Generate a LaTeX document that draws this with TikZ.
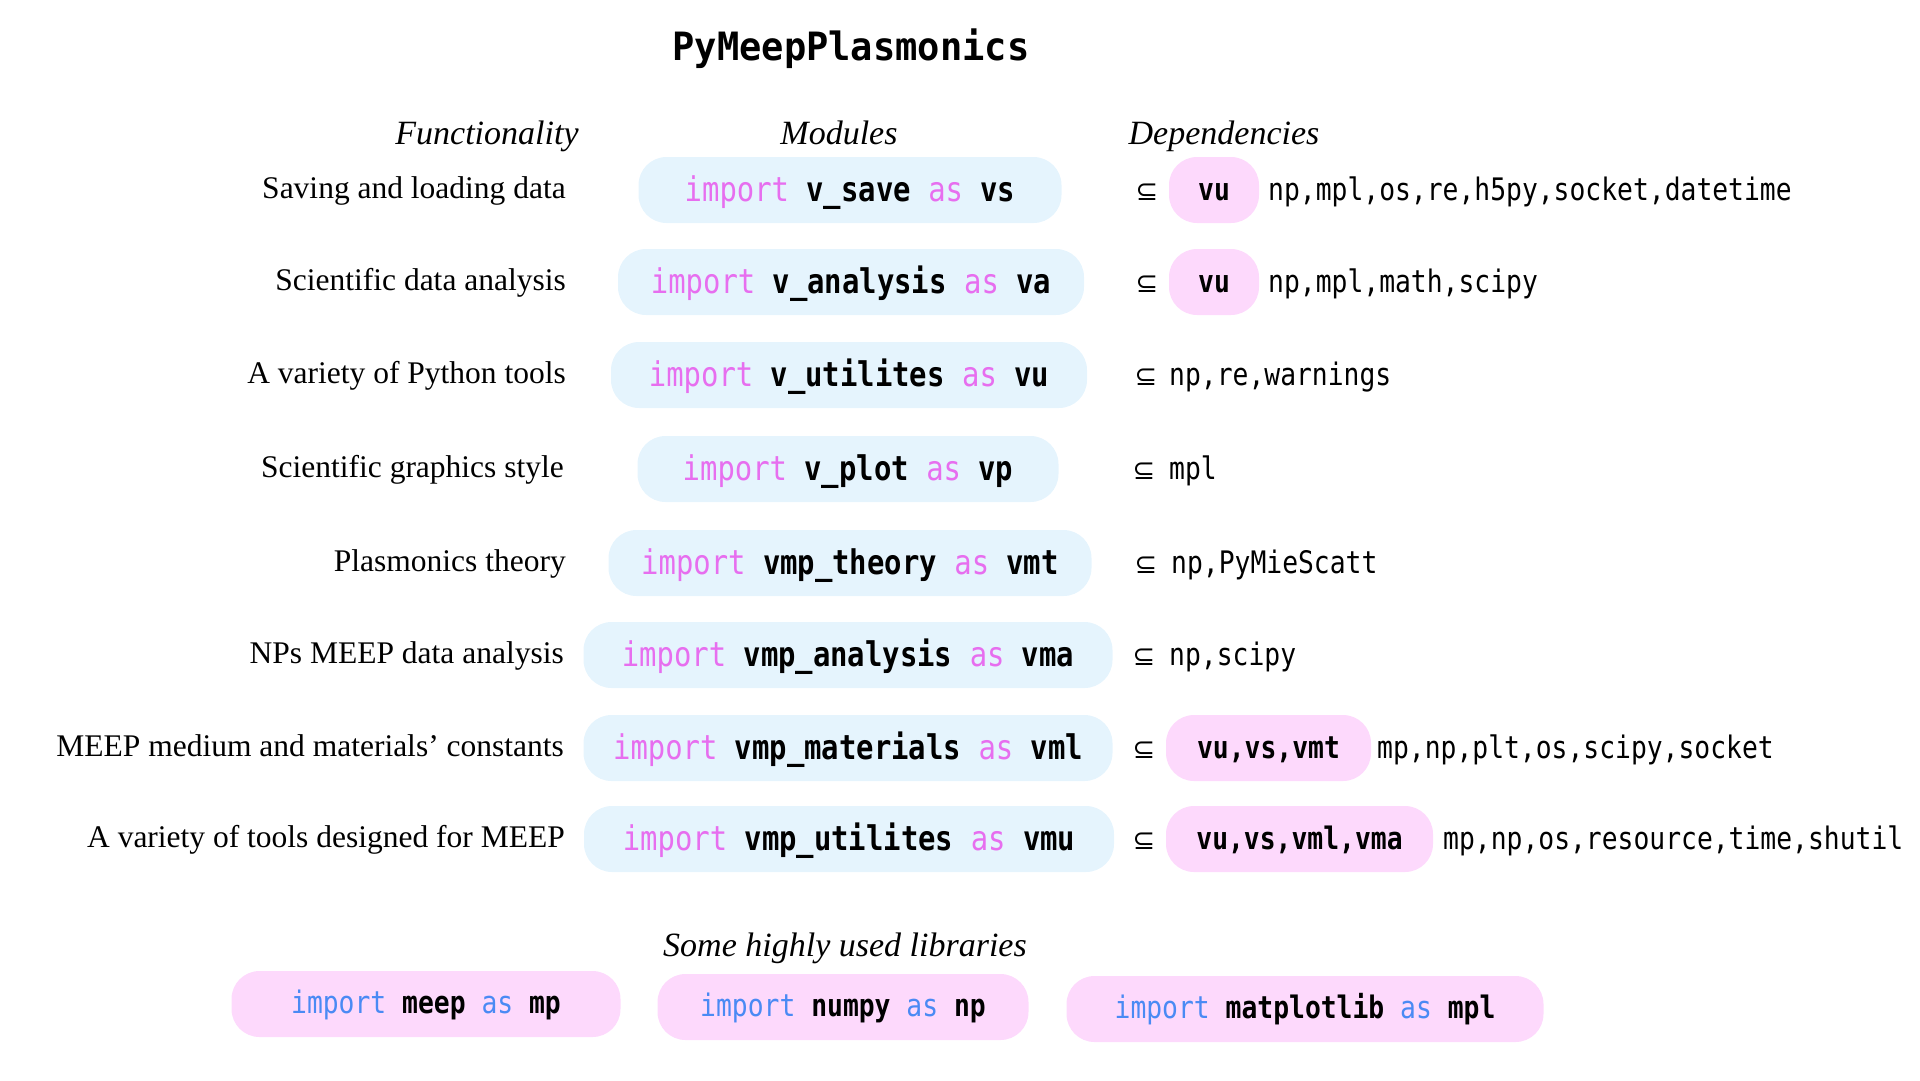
\documentclass[tikz,border=0pt]{standalone}
\usepackage{fontspec}
\setmainfont{Liberation Serif}
\newfontfamily\codefont[FakeStretch=0.85]{DejaVu Sans Mono}
\newfontfamily\titlefont[FakeStretch=0.95]{DejaVu Sans Mono}
\newfontfamily\symfont{DejaVu Sans}
\definecolor{modbg}{HTML}{E5F4FD}
\definecolor{depbg}{HTML}{FDD9FC}
\definecolor{kwmag}{HTML}{E76EEF}
\definecolor{kwblue}{HTML}{4A8AF4}
\newcommand\kwm[1]{\textcolor{kwmag}{#1}}
\newcommand\kwb[1]{\textcolor{kwblue}{#1}}
\tikzset{
  titletext/.style={anchor=base, inner sep=0, font=\titlefont\bfseries\fontsize{39}{45}\selectfont},
  hdr/.style={anchor=base, inner sep=0, font=\itshape\fontsize{34}{40}\selectfont},
  func/.style={anchor=base east, inner sep=0, font=\fontsize{31.5}{37}\selectfont},
  modbox/.style={fill=modbg, rounded corners=28, minimum height=66, inner xsep=0, text height=27, text depth=5, font=\codefont\fontsize{34}{40}\selectfont},
  depbox/.style={fill=depbg, rounded corners=28, minimum height=66, inner xsep=0, text height=25, text depth=5, font=\codefont\bfseries\fontsize{31}{37}\selectfont},
  subs/.style={anchor=base, inner sep=0, font=\symfont\fontsize{27}{30}\selectfont},
  deptext/.style={anchor=base west, inner sep=0, font=\codefont\fontsize{31}{37}\selectfont},
  libbox/.style={fill=depbg, rounded corners=28, minimum height=66, inner xsep=0, text height=24, text depth=6, font=\codefont\fontsize{31}{37}\selectfont}
}
\begin{document}
\begin{tikzpicture}[x=1pt,y=-1pt]
\useasboundingbox (0,0) rectangle (1920,1080);
% title and headers
\node[titletext] (title) at (851,60) {PyMeepPlasmonics};
\node[hdr] (hfun) at (487,144) {Functionality};
\node[hdr] (hmod) at (839,144) {Modules};
\node[hdr] (hdep) at (1224,144) {Dependencies};
% functionality labels
\node[func] (f1) at (566,198) {Saving and loading data};
\node[func] (f2) at (566,290) {Scientific data analysis};
\node[func] (f3) at (566,383) {A variety of Python tools};
\node[func] (f4) at (564,477) {Scientific graphics style};
\node[func] (f5) at (566,571) {Plasmonics theory};
\node[func] (f6) at (564,663) {NPs MEEP data analysis};
\node[func] (f7) at (564,756) {MEEP medium and materials' constants};
\node[func] (f8) at (565,847) {A variety of tools designed for MEEP};
% modules
\node[modbox, minimum width=423] (m1) at (850,190) {\kwm{import} \textbf{v\_save} \kwm{as} \textbf{vs}};
\node[modbox, minimum width=466] (m2) at (851,282) {\kwm{import} \textbf{v\_analysis} \kwm{as} \textbf{va}};
\node[modbox, minimum width=476] (m3) at (849,375) {\kwm{import} \textbf{v\_utilites} \kwm{as} \textbf{vu}};
\node[modbox, minimum width=421] (m4) at (848,469) {\kwm{import} \textbf{v\_plot} \kwm{as} \textbf{vp}};
\node[modbox, minimum width=483] (m5) at (850,563) {\kwm{import} \textbf{vmp\_theory} \kwm{as} \textbf{vmt}};
\node[modbox, minimum width=529] (m6) at (848,655) {\kwm{import} \textbf{vmp\_analysis} \kwm{as} \textbf{vma}};
\node[modbox, minimum width=529] (m7) at (848,748) {\kwm{import} \textbf{vmp\_materials} \kwm{as} \textbf{vml}};
\node[modbox, minimum width=530] (m8) at (849,839) {\kwm{import} \textbf{vmp\_utilites} \kwm{as} \textbf{vmu}};
% subset symbols
\node[subs] (s1) at (1147,200) {⊆};
\node[subs] (s2) at (1147,292) {⊆};
\node[subs] (s3) at (1146,385) {⊆};
\node[subs] (s4) at (1144,479) {⊆};
\node[subs] (s5) at (1146,573) {⊆};
\node[subs] (s6) at (1144,665) {⊆};
\node[subs] (s7) at (1144,758) {⊆};
\node[subs] (s8) at (1144,849) {⊆};
% dependencies
\node[depbox, minimum width=90] (d1) at (1214,190) {vu};
\node[deptext] (t1) at (1268,200) {np,mpl,os,re,h5py,socket,datetime};
\node[depbox, minimum width=90] (d2) at (1214,282) {vu};
\node[deptext] (t2) at (1268,292) {np,mpl,math,scipy};
\node[deptext] (t3) at (1169,385) {np,re,warnings};
\node[deptext] (t4) at (1169,479) {mpl};
\node[deptext] (t5) at (1171,573) {np,PyMieScatt};
\node[deptext] (t6) at (1169,665) {np,scipy};
\node[depbox, minimum width=205] (d7) at (1268.5,748) {vu,vs,vmt};
\node[deptext] (t7) at (1377,758) {mp,np,plt,os,scipy,socket};
\node[depbox, minimum width=267] (d8) at (1299.5,839) {vu,vs,vml,vma};
\node[deptext] (t8) at (1443,849) {mp,np,os,resource,time,shutil};
% libraries
\node[hdr] (hlib) at (845,956) {Some highly used libraries};
\node[libbox, minimum width=389] (l1) at (426,1004) {\kwb{import} \textbf{meep} \kwb{as} \textbf{mp}};
\node[libbox, minimum width=371] (l2) at (843,1007) {\kwb{import} \textbf{numpy} \kwb{as} \textbf{np}};
\node[libbox, minimum width=477] (l3) at (1305,1009) {\kwb{import} \textbf{matplotlib} \kwb{as} \textbf{mpl}};
\end{tikzpicture}
\end{document}
